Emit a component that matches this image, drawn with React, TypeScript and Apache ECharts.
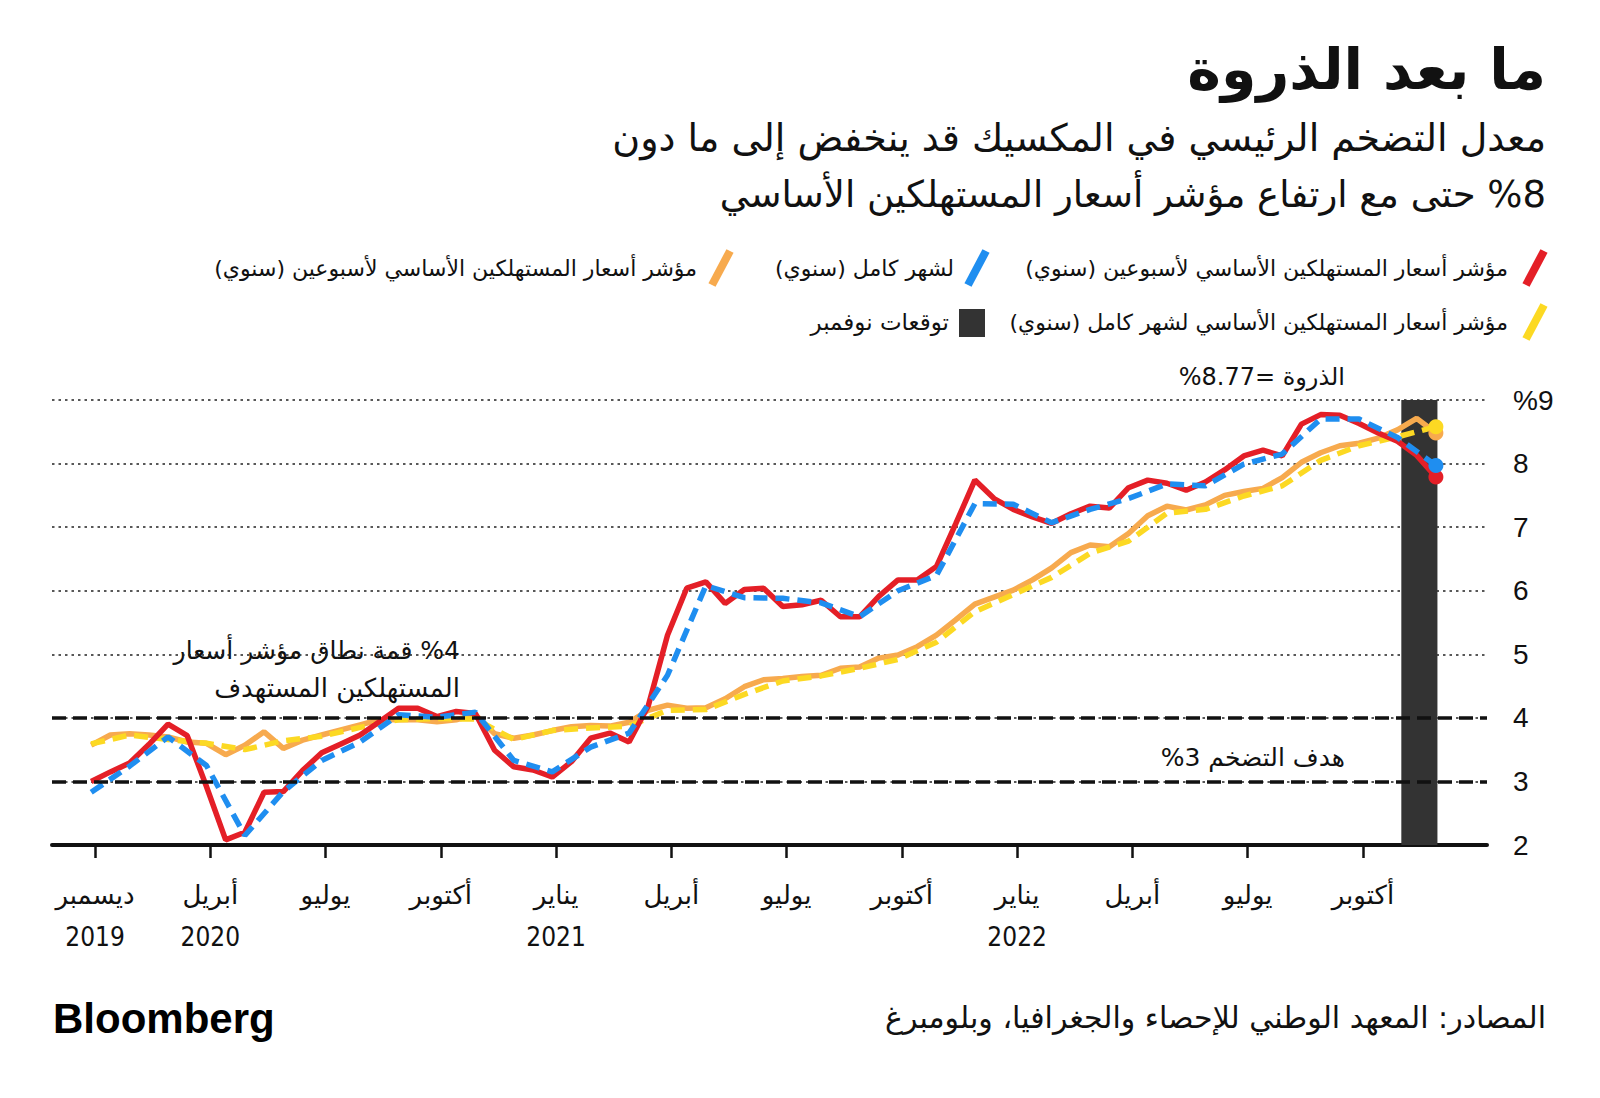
import React, { useEffect, useRef } from 'react';
import * as echarts from 'echarts';

// Months since Dec 2019 (0) -> Nov 2022 (35). Biweekly series: one value every half month.
const headlineBiweekly = [
  3.00, 3.15, 3.29, 3.58, 3.90, 3.72, 2.92, 2.08, 2.20, 2.83, 2.84, 3.17, 3.45, 3.59, 3.73, 3.94,
  4.15, 4.15, 4.02, 4.10, 4.07, 3.49, 3.23, 3.18, 3.07, 3.31, 3.68, 3.76, 3.62, 4.19, 5.30, 6.04,
  6.14, 5.80, 6.02, 6.04, 5.75, 5.78, 5.85, 5.59, 5.59, 5.91, 6.17, 6.17, 6.38, 7.05, 7.74, 7.45,
  7.28, 7.16, 7.06, 7.21, 7.33, 7.30, 7.62, 7.74, 7.69, 7.58, 7.71, 7.90, 8.12, 8.21, 8.12, 8.62,
  8.77, 8.76, 8.63, 8.48, 8.35, 8.13, 7.79,
];
const coreBiweekly = [
  3.57, 3.73, 3.75, 3.73, 3.70, 3.62, 3.60, 3.42, 3.57, 3.78, 3.52, 3.65, 3.73, 3.81, 3.89, 3.97,
  3.97, 3.97, 3.94, 3.97, 4.05, 3.75, 3.68, 3.73, 3.80, 3.86, 3.88, 3.87, 3.93, 4.12, 4.20, 4.15,
  4.16, 4.30, 4.49, 4.60, 4.62, 4.65, 4.67, 4.78, 4.80, 4.94, 4.99, 5.12, 5.30, 5.54, 5.79, 5.90,
  6.01, 6.17, 6.36, 6.60, 6.72, 6.69, 6.90, 7.18, 7.33, 7.27, 7.35, 7.50, 7.56, 7.61, 7.78, 8.02,
  8.17, 8.28, 8.32, 8.40, 8.53, 8.71, 8.48,
];
const headlineMonthly = [
  2.83, 3.24, 3.70, 3.25, 2.15, 2.84, 3.33, 3.62, 4.05, 4.01, 4.09, 3.33, 3.15, 3.54, 3.76, 4.67,
  6.08, 5.89, 5.88, 5.81, 5.59, 6.00, 6.24, 7.37, 7.36, 7.07, 7.28, 7.45, 7.68, 7.65, 7.99, 8.15,
  8.70, 8.70, 8.41, 7.97,
];
const coreMonthly = [
  3.59, 3.73, 3.66, 3.60, 3.50, 3.64, 3.71, 3.85, 3.97, 3.99, 3.98, 3.66, 3.80, 3.84, 3.87, 4.12,
  4.13, 4.37, 4.58, 4.66, 4.78, 4.92, 5.19, 5.67, 5.94, 6.21, 6.59, 6.78, 7.22, 7.28, 7.49, 7.65,
  8.05, 8.28, 8.42, 8.58,
];
const tickMonthNames = ['ديسمبر', 'أبريل', 'يوليو', 'أكتوبر', 'يناير', 'أبريل', 'يوليو', 'أكتوبر', 'يناير', 'أبريل', 'يوليو', 'أكتوبر'];
const tickYears = ['2019', '2020', '', '', '2021', '', '', '', '2022', '', '', ''];
const tickPositions = [0.1, 3.1, 6.1, 9.1, 12.1, 15.1, 18.1, 21.1, 24.1, 27.1, 30.1, 33.1];
const forecastBand = [34.1, 35.04];
const targetLines = [3, 4];

const ARC = "'DejaVu Sans Condensed', 'DejaVu Sans', sans-serif";
const AR = "'DejaVu Sans', sans-serif";
const RLE = '\u202B';
const LRO = '\u202D';
const PDF = '\u202C';
const rtl = (s: string) => RLE + s + PDF;
const ltrRun = (s: string) => LRO + s + PDF;

const RED = '#e41f27';
const BLUE = '#1f8ef0';
const ORANGE = '#f7aa4e';
const YELLOW = '#fcd923';

function toPoints(vals: number[], step: number) {
  return vals.map((v, i) =>
    i === vals.length - 1
      ? { value: [i * step, v], symbol: 'circle', symbolSize: 15 }
      : { value: [i * step, v], symbol: 'none', symbolSize: 0 }
  );
}

function txt(text: string, x: number, y: number, size: number, opts: any = {}) {
  return {
    type: 'text',
    x,
    y,
    silent: true,
    style: {
      text,
      fill: opts.fill || '#111',
      fontSize: size,
      fontFamily: opts.family || AR,
      fontWeight: opts.weight || 'normal',
      textAlign: opts.align || 'right',
      align: opts.align || 'right',
      textVerticalAlign: 'middle',
      verticalAlign: 'middle',
    },
  };
}

function icon(cx: number, cy: number, color: string) {
  return {
    type: 'line',
    silent: true,
    shape: { x1: cx - 9, y1: cy + 17, x2: cx + 9, y2: cy - 17 },
    style: { stroke: color, lineWidth: 8, lineCap: 'butt' },
  };
}

export default function App() {
  const ref = useRef<HTMLDivElement>(null);
  useEffect(() => {
    const chart = echarts.init(ref.current!, null, { renderer: 'svg' });
    const lineBase = {
      type: 'line',
      showSymbol: true,
      showAllSymbol: true,
      smooth: false,
      z: 3,
    };
    chart.setOption({
      animation: false,
      backgroundColor: '#ffffff',
      grid: { left: 52, right: 113, top: 400, bottom: 253, containLabel: false },
      xAxis: {
        type: 'value',
        min: -1.02,
        max: 36.33,
        axisLine: { show: true, lineStyle: { color: '#111', width: 4 } },
        axisTick: {
          show: true,
          customValues: tickPositions,
          length: 13,
          lineStyle: { color: '#111', width: 2.5 },
        },
        axisLabel: {
          show: true,
          customValues: tickPositions,
          margin: 29,
          lineHeight: 42,
          color: '#111',
          rich: {
            m: { fontSize: 26, fontFamily: AR, lineHeight: 42, color: '#111' },
            y: { fontSize: 26, fontFamily: ARC, lineHeight: 42, color: '#111' },
          },
          formatter: (v: number) => {
            const i = tickPositions.findIndex((p) => Math.abs(p - v) < 0.01);
            if (i < 0) return '';
            return tickYears[i]
              ? '{m|' + tickMonthNames[i] + '}\n{y|' + tickYears[i] + '}'
              : '{m|' + tickMonthNames[i] + '}';
          },
        },
        splitLine: { show: false },
      },
      yAxis: {
        type: 'value',
        position: 'right',
        min: 2,
        max: 9,
        interval: 1,
        axisLine: { show: false },
        axisTick: { show: false },
        axisLabel: {
          margin: 26,
          fontSize: 28,
          fontFamily: "'Liberation Sans', Arial, sans-serif",
          color: '#111',
          formatter: (v: number) => (v === 9 ? '%9' : String(v)),
        },
        splitLine: { show: true, lineStyle: { color: '#222', width: 1.5, type: [2.5, 4] } },
      },
      series: [
        {
          type: 'line',
          data: [],
          z: -1,
          markArea: {
            silent: true,
            itemStyle: { color: '#333333' },
            data: [[{ xAxis: forecastBand[0] }, { xAxis: forecastBand[1] }]],
          },
        },
        {
          type: 'line',
          data: [],
          z: 1,
          markLine: {
            silent: true,
            symbol: 'none',
            label: { show: false },
            lineStyle: { color: '#111', width: 3.5, type: [14, 7] },
            data: targetLines.map((v) => ({ yAxis: v })),
          },
        },
        {
          ...lineBase,
          name: 'core-biweekly',
          data: toPoints(coreBiweekly, 0.5),
          lineStyle: { color: ORANGE, width: 5.5 },
          itemStyle: { color: ORANGE },
        },
        {
          ...lineBase,
          name: 'core-monthly',
          data: toPoints(coreMonthly, 1),
          lineStyle: { color: YELLOW, width: 5.5, type: [14, 8] },
          itemStyle: { color: YELLOW },
        },
        {
          ...lineBase,
          name: 'headline-biweekly',
          data: toPoints(headlineBiweekly, 0.5),
          lineStyle: { color: RED, width: 5.5 },
          itemStyle: { color: RED },
        },
        {
          ...lineBase,
          name: 'headline-monthly',
          data: toPoints(headlineMonthly, 1),
          lineStyle: { color: BLUE, width: 5.5, type: [14, 8] },
          itemStyle: { color: BLUE },
        },
      ],
      graphic: [
        txt(rtl('ما بعد الذروة'), 1546, 69, 57, { weight: 'bold' }),
        txt(rtl('معدل التضخم الرئيسي في المكسيك قد ينخفض إلى ما دون'), 1546, 138, 38),
        txt(rtl(ltrRun('%8') + ' حتى مع ارتفاع مؤشر أسعار المستهلكين الأساسي'), 1546, 194, 37),
        icon(1535, 268, RED),
        txt(rtl('مؤشر أسعار المستهلكين الأساسي لأسبوعين (سنوي)'), 1508, 268, 22),
        icon(977, 268, BLUE),
        txt(rtl('لشهر كامل (سنوي)'), 954, 268, 22),
        icon(721, 268, ORANGE),
        txt(rtl('مؤشر أسعار المستهلكين الأساسي لأسبوعين (سنوي)'), 697, 268, 22),
        icon(1535, 322, YELLOW),
        txt(rtl('مؤشر أسعار المستهلكين الأساسي لشهر كامل (سنوي)'), 1508, 322, 22),
        {
          type: 'rect',
          silent: true,
          shape: { x: 959, y: 309, width: 26, height: 28 },
          style: { fill: '#333333' },
        },
        txt(rtl('توقعات نوفمبر'), 949, 322, 23),
        txt(rtl('الذروة ' + ltrRun('%8.77=')), 1345, 377, 24),
        txt(rtl(ltrRun('%4') + ' قمة نطاق مؤشر أسعار'), 460, 650, 25),
        txt(rtl('المستهلكين المستهدف'), 460, 688, 26),
        txt(rtl('هدف التضخم ' + ltrRun('%3')), 1345, 757, 25),
        txt('Bloomberg', 53, 1018, 42, { align: 'left', weight: 'bold', family: "'Liberation Sans', Arial, sans-serif", fill: '#000' }),
        txt(rtl('المصادر: المعهد الوطني للإحصاء والجغرافيا، وبلومبرغ'), 1546, 1017, 30),
      ],
    });
    return () => chart.dispose();
  }, []);
  return (
    <div
      ref={ref}
      style={{ position: 'fixed', left: 0, top: 0, width: 1600, height: 1098, background: '#fff' }}
    />
  );
}
